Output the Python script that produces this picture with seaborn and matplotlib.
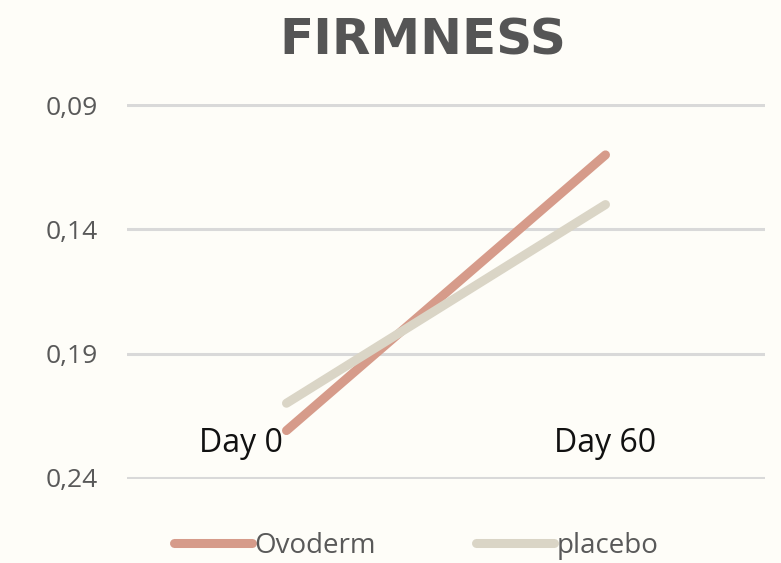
import pandas as pd
import seaborn as sns
import matplotlib.pyplot as plt
from matplotlib.lines import Line2D

# data (y axis is reversed in the original)
days = ["Day 0", "Day 60"]
ovoderm = [0.221, 0.110]
placebo = [0.210, 0.130]
y_ticks = [0.09, 0.14, 0.19, 0.24]
y_tick_labels = ["0,09", "0,14", "0,19", "0,24"]

df = pd.DataFrame({
    "day": days * 2,
    "x": [0, 1] * 2,
    "value": ovoderm + placebo,
    "group": ["Ovoderm"] * 2 + ["placebo"] * 2,
})

bg = "#fefdf8"
c_ovo = "#d69b8a"
c_pla = "#dad5c6"
sns.set_style("white")
plt.rcParams["font.family"] = ["Open Sans", "DejaVu Sans"]

fig = plt.figure(figsize=(7.81, 5.63), dpi=100, facecolor=bg)
ax = fig.add_axes([0.1626, 0.1492, 0.8169, 0.6661])
ax.set_facecolor(bg)

sns.lineplot(data=df, x="x", y="value", hue="group",
             palette={"Ovoderm": c_ovo, "placebo": c_pla},
             linewidth=6.5, solid_capstyle="round", legend=False, ax=ax, zorder=3)

ax.set_xlim(-0.5, 1.5)
ax.set_ylim(0.2405, 0.0895)
ax.set_yticks(y_ticks)
ax.set_yticklabels(y_tick_labels, fontsize=19, color="#595959")
ax.tick_params(axis="y", length=0, pad=21)
ax.set_xticks([])
ax.yaxis.grid(True, color="#d9d9d9", linewidth=2.2)
ax.set_axisbelow(True)
for s in ax.spines.values():
    s.set_visible(False)
ax.set_xlabel("")
ax.set_ylabel("")

# category labels sit inside the plot area, just above the bottom gridline
ax.text(-0.01, 0.2262, days[0], ha="right", va="center", fontsize=23, color="#111111")
ax.text(1.0, 0.2262, days[1], ha="center", va="center", fontsize=23, color="#111111")

fig.text(0.542, 0.928, "FIRMNESS", ha="center", va="center", fontsize=36,
         fontweight="bold", color="#555555", family=["DejaVu Sans"])

# legend
handles = [Line2D([], [], color=c_ovo, lw=6.5, solid_capstyle="round"),
           Line2D([], [], color=c_pla, lw=6.5, solid_capstyle="round")]
fig.legend(handles, ["Ovoderm", "placebo"], loc="center", bbox_to_anchor=(0.533, 0.030),
           ncol=2, frameon=False, fontsize=20, handlelength=2.8, handletextpad=0.1,
           columnspacing=3.6, labelcolor="#595959")

fig.savefig("out.png", dpi=100, facecolor=bg)
